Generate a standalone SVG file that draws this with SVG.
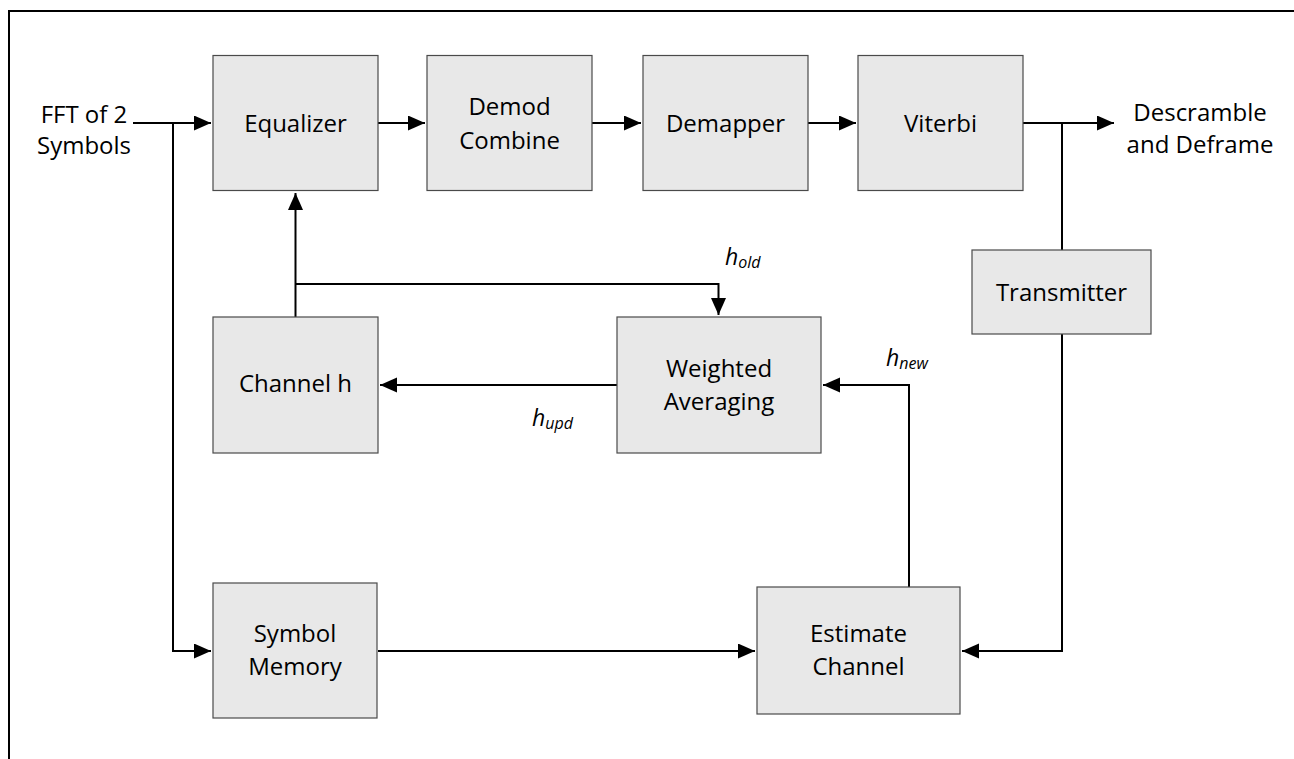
<svg xmlns="http://www.w3.org/2000/svg" width="1294" height="759" viewBox="0 0 1294 759">
<style>
.box{fill:#e8e8e8;stroke:#4a4a4a;stroke-width:1.2}
.lbl{font-family:"Open Sans","Liberation Sans",sans-serif;font-size:24px;fill:#000;text-anchor:middle}
.it{font-family:"Open Sans","Liberation Sans",sans-serif;font-style:italic;font-size:23px;fill:#000}
.sub{font-size:16px}
.wire{fill:none;stroke:#000;stroke-width:2}
</style>
<defs>
<marker id="ah" markerUnits="userSpaceOnUse" markerWidth="18" markerHeight="16" refX="17" refY="7.5" orient="auto">
<path d="M0,0 L17,7.5 L0,15 z" fill="#000"/>
</marker>
</defs>
<rect x="0" y="0" width="1294" height="759" fill="#fff"/>
<rect x="9" y="11" width="1320" height="800" fill="none" stroke="#000" stroke-width="2"/>

<g id="connectors">
<path class="wire" d="M133,123 H211" marker-end="url(#ah)"/>
<path class="wire" d="M173,123 V651 H211" marker-end="url(#ah)"/>
<path class="wire" d="M378,123 H425" marker-end="url(#ah)"/>
<path class="wire" d="M592,123 H641" marker-end="url(#ah)"/>
<path class="wire" d="M808,123 H856" marker-end="url(#ah)"/>
<path class="wire" d="M1023,123 H1114" marker-end="url(#ah)"/>
<path class="wire" d="M1062,123 V250"/>
<path class="wire" d="M1062,334 V651 H962" marker-end="url(#ah)"/>
<path class="wire" d="M378,651 H755" marker-end="url(#ah)"/>
<path class="wire" d="M909,587 V385 H823" marker-end="url(#ah)"/>
<path class="wire" d="M617,385 H380" marker-end="url(#ah)"/>
<path class="wire" d="M295.5,317 V193" marker-end="url(#ah)"/>
<path class="wire" d="M295.5,284 H718.5 V315" marker-end="url(#ah)"/>
</g>

<g id="labels">
<text class="lbl" x="84" y="123">FFT of 2</text>
<text class="lbl" x="84" y="154">Symbols</text>
<text class="lbl" x="1200" y="121">Descramble</text>
<text class="lbl" x="1200" y="153">and Deframe</text>
<text class="it" x="725" y="265">h<tspan class="sub" dy="3">old</tspan></text>
<text class="it" x="532" y="426">h<tspan class="sub" dy="3">upd</tspan></text>
<text class="it" x="886" y="366">h<tspan class="sub" dy="3">new</tspan></text>
</g>

<g id="equalizer">
<rect class="box" x="213" y="55.5" width="165" height="135"/>
<text class="lbl" x="295.5" y="131.5">Equalizer</text>
</g>
<g id="demod-combine">
<rect class="box" x="427" y="55.5" width="165" height="135"/>
<text class="lbl" x="509.5" y="115">Demod</text>
<text class="lbl" x="509.5" y="149">Combine</text>
</g>
<g id="demapper">
<rect class="box" x="643" y="55.5" width="165" height="135"/>
<text class="lbl" x="725.5" y="131.5">Demapper</text>
</g>
<g id="viterbi">
<rect class="box" x="858" y="55.5" width="165" height="135"/>
<text class="lbl" x="940.5" y="131.5">Viterbi</text>
</g>
<g id="transmitter">
<rect class="box" x="972" y="250" width="179" height="84"/>
<text class="lbl" x="1061.5" y="300.5">Transmitter</text>
</g>
<g id="channel-h">
<rect class="box" x="213" y="317" width="165" height="136"/>
<text class="lbl" x="295.5" y="392">Channel h</text>
</g>
<g id="weighted-averaging">
<rect class="box" x="617" y="317" width="204" height="136"/>
<text class="lbl" x="719" y="377">Weighted</text>
<text class="lbl" x="719" y="410">Averaging</text>
</g>
<g id="symbol-memory">
<rect class="box" x="213" y="583" width="164" height="135"/>
<text class="lbl" x="295" y="642">Symbol</text>
<text class="lbl" x="295" y="675">Memory</text>
</g>
<g id="estimate-channel">
<rect class="box" x="757" y="587" width="203" height="127"/>
<text class="lbl" x="858.5" y="642">Estimate</text>
<text class="lbl" x="858.5" y="675">Channel</text>
</g>
</svg>
